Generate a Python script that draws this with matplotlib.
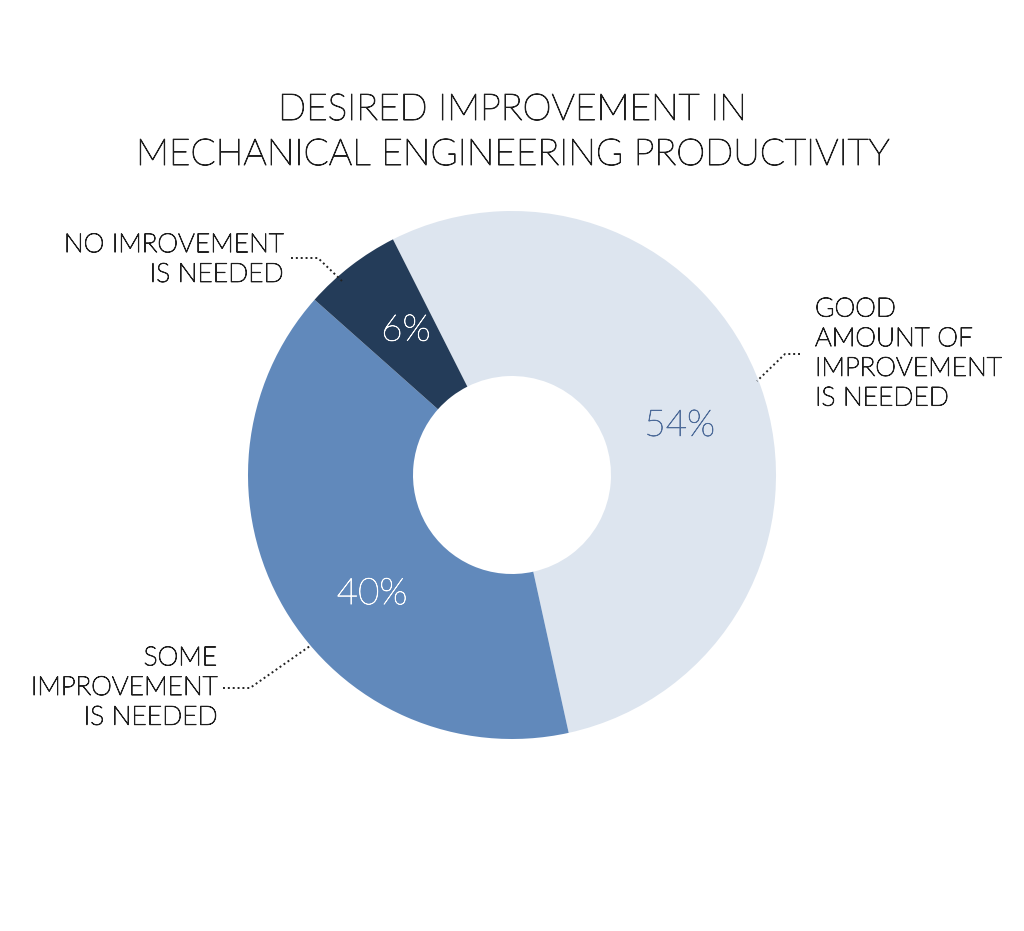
import matplotlib.pyplot as plt
import matplotlib.patheffects as pe

# data
categories = ['GOOD\nAMOUNT OF\nIMPROVEMENT\nIS NEEDED', 'SOME\nIMPROVEMENT\nIS NEEDED', 'NO IMROVEMENT\nIS NEEDED']
values = [54, 40, 6]
colors = ['#dde5ef', '#6189bb', '#243c59']
pct_colors = ['#4d6b99', 'white', 'white']

H = 931
FONT = ['Lato', 'DejaVu Sans']


def py(y):
    # picture y (top-down) -> data y
    return H - y


def thicken(t, c, w=0.7):
    t.set_path_effects([pe.withStroke(linewidth=w, foreground=c)])


fig = plt.figure(figsize=(10.24, 9.31), dpi=100)
ax = fig.add_axes([0, 0, 1, 1])
ax.set_xlim(0, 1024)
ax.set_ylim(0, H)
ax.axis('off')

cx, cy, r = 512, py(475), 264
wedges, texts, autotexts = ax.pie(
    values, colors=colors, startangle=116.8, counterclock=False,
    center=(cx, cy), radius=r, autopct='%d%%', pctdistance=0.69,
    wedgeprops=dict(width=r * 0.625, linewidth=0),
    textprops=dict(fontsize=26.5, family=FONT, fontweight='light'))
# nudge the percent labels a little toward where the original puts them
nudges = [(-4, -12), (17, -27), (5, 0)]
for t, c, (dx, dy) in zip(autotexts, pct_colors, nudges):
    t.set_color(c)
    thicken(t, c, 0.5)
    x, y = t.get_position()
    t.set_position((x + dx, y + dy))
ax.set_xlim(0, 1024)
ax.set_ylim(0, H)
ax.set_aspect('auto')

# title
for y, s in [(110, 'DESIRED IMPROVEMENT IN'), (155, 'MECHANICAL ENGINEERING PRODUCTIVITY')]:
    t = ax.text(512, py(y), s, ha='center', va='center',
                fontsize=26.6, family=FONT, fontweight='light', color='#1e1e1e')
    thicken(t, '#1e1e1e')

lab_kw = dict(fontsize=19, family=FONT, fontweight='light', color='#1e1e1e',
              linespacing=1.3)
labs = [
    ax.text(815, py(354), categories[0], ha='left', va='center', **lab_kw),
    ax.text(217, py(688), categories[1], ha='right', va='center', multialignment='right', **lab_kw),
    ax.text(283, py(260), categories[2], ha='right', va='center', multialignment='right', **lab_kw),
]
for t in labs:
    thicken(t, '#1e1e1e')

# dotted leader lines
line_kw = dict(color='#222222', linestyle=(0, (1, 1.5)), linewidth=1.4)
ax.plot([800, 785, 757], [py(354), py(354), py(381)], **line_kw)
ax.plot([223, 250, 310], [py(688), py(688), py(646)], **line_kw)
ax.plot([291, 318, 342], [py(258), py(258), py(281)], **line_kw)

fig.savefig('out.png', dpi=100, facecolor='white')
